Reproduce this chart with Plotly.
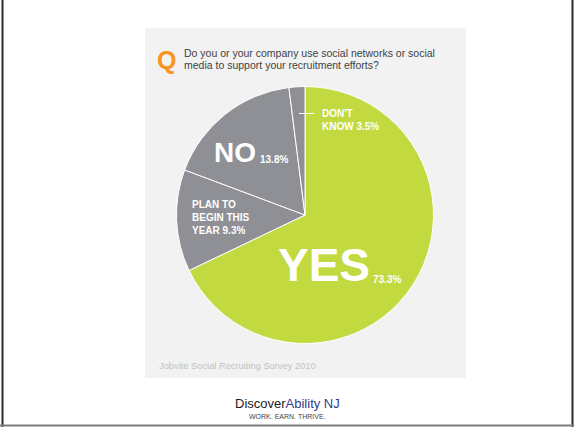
import plotly.graph_objects as go

W, H = 574, 427

# ---- data ----
categories = ["YES", "PLAN TO BEGIN THIS YEAR", "NO", "DON'T KNOW"]
reported_pct = [73.3, 9.3, 13.8, 3.5]          # percentages printed on the chart
drawn_share = [67.9, 12.8, 17.3, 2.0]           # slice sizes as drawn in the picture
slice_colors = ["#c2d940", "#8f9095", "#8f9095", "#8f9095"]
question_lines = ["Do you or your company use social networks or social",
                  "media to support your recruitment efforts?"]
source = "Jobvite Social Recruiting Survey 2010"


def px(x):
    return x / W


def py(y):
    return 1 - y / H


fig = go.Figure()
fig.add_trace(go.Pie(
    labels=categories,
    values=drawn_share,
    sort=False,
    direction="clockwise",
    rotation=0,
    marker=dict(colors=slice_colors, line=dict(color="#ffffff", width=1)),
    textinfo="none",
    hoverinfo="skip",
    showlegend=False,
    domain=dict(x=[px(176.5), px(433.5)], y=[py(343.5), py(86.5)]),
))

shapes = [
    # panel
    dict(type="rect", xref="paper", yref="paper", x0=px(145), x1=px(466), y0=py(378), y1=py(28),
         fillcolor="#f2f2f2", line=dict(width=0), layer="below"),
    # slide borders
    dict(type="line", xref="paper", yref="paper", x0=px(2.5), x1=px(2.5), y0=0, y1=1,
         line=dict(color="#2b2b2b", width=2)),
    dict(type="line", xref="paper", yref="paper", x0=px(572.5), x1=px(572.5), y0=0, y1=1,
         line=dict(color="#2b2b2b", width=2)),
    dict(type="line", xref="paper", yref="paper", x0=0, x1=1, y0=py(425.5), y1=py(425.5),
         line=dict(color="#7d7d7d", width=2)),
    # leader for DON'T KNOW
    dict(type="line", xref="paper", yref="paper", x0=px(299), x1=px(314), y0=py(113.5), y1=py(113.5),
         line=dict(color="#ffffff", width=1)),
]

BOLD = "Liberation Sans"
annotations = []


def ann(text, x, y, size, color, xanchor="left", yanchor="middle", family=BOLD, bold=False, align="left"):
    t = f"<b>{text}</b>" if bold else text
    annotations.append(dict(text=t, x=px(x), y=py(y), xref="paper", yref="paper",
                            xanchor=xanchor, yanchor=yanchor, showarrow=False, align=align,
                            font=dict(family=family, size=size, color=color)))


# header
ann("Q", 155, 59.5, 25, "#f7941d", bold=True)
ann(question_lines[0], 182, 53, 10.5, "#3f3f3f")
ann(question_lines[1], 182, 64.5, 10.5, "#3f3f3f")

# slice labels
ann(f"DON'T<br>KNOW {reported_pct[3]}%", 320, 120, 10, "#ffffff", bold=True)
ann("NO", 212, 153, 28, "#ffffff", bold=True)
ann(f"{reported_pct[2]}%", 258, 159.5, 10, "#ffffff", bold=True)
ann(f"PLAN TO<br>BEGIN THIS<br>YEAR {reported_pct[1]}%", 190, 217, 10, "#ffffff", bold=True)
ann("YES", 276, 265, 46, "#ffffff", bold=True)
ann(f"{reported_pct[0]}%", 371, 279.5, 10, "#ffffff", bold=True)

# source
ann(source, 157, 366, 9.3, "#c2c2c2")

# logo
annotations.append(dict(text="<span style='color:#1b1b1b'>Discover</span><span style='color:#2f3c8c'>Ability NJ</span>",
                        x=px(287), y=py(403), xref="paper", yref="paper", xanchor="center", yanchor="middle",
                        showarrow=False, font=dict(family="Liberation Sans", size=13)))
ann("WORK. EARN. THRIVE.", 287, 416, 7, "#444444", xanchor="center")

fig.update_layout(
    width=W, height=H,
    margin=dict(l=0, r=0, t=0, b=0),
    paper_bgcolor="#ffffff",
    plot_bgcolor="#ffffff",
    shapes=shapes,
    annotations=annotations,
)

fig.write_html(
    "out.html",
    config={"displayModeBar": False, "staticPlot": True},
    post_script="document.body.style.margin='0';document.body.style.overflow='hidden';",
)
